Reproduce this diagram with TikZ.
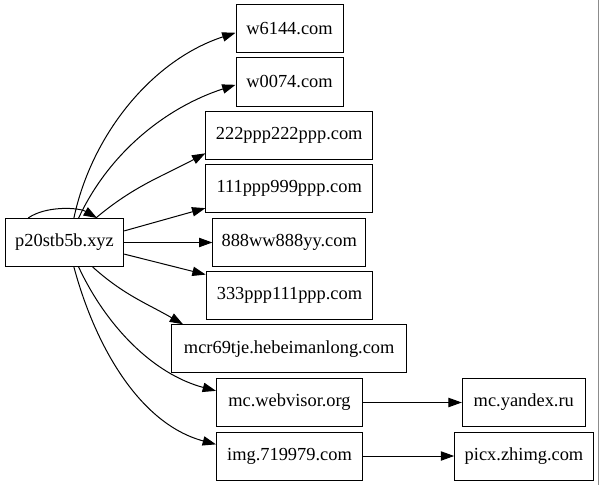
\documentclass[tikz,border=0pt]{standalone}
\usepackage{fontspec}
\setmainfont{Liberation Serif}
\usetikzlibrary{arrows.meta}

\begin{document}
\begin{tikzpicture}[x=0.75pt,y=0.75pt,>={Triangle[length=10pt,width=7pt]},
    font=\fontsize{13.8}{16}\selectfont,
    host/.style={draw,line width=0.75pt,minimum height=36pt,inner sep=0pt},
    link/.style={->,line width=0.75pt}]
  \useasboundingbox (0,0) rectangle (599,-485);
  \draw[black!45,line width=0.8pt] (598.5,0) -- (598.5,-485);
  % hosts
  \node[host,minimum width=89pt]    (src)      at (64.5,-242.5) {p20stb5b.xyz};
  \node[host,minimum width=80.25pt] (w6144)    at (289.5,-29)   {w6144.com};
  \node[host,minimum width=80.25pt] (w0074)    at (289.5,-82)   {w0074.com};
  \node[host,minimum width=125pt]   (p222)     at (289.2,-135.5){222ppp222ppp.com};
  \node[host,minimum width=125pt]   (p111)     at (289.2,-188.8){111ppp999ppp.com};
  \node[host,minimum width=114.5pt] (ww888)    at (289.2,-242.5){888ww888yy.com};
  \node[host,minimum width=125pt]   (p333)     at (289.5,-295.5){333ppp111ppp.com};
  \node[host,minimum width=176pt]   (mcr)      at (289.2,-348.8){mcr69tje.hebeimanlong.com};
  \node[host,minimum width=109.5pt] (webvisor) at (289.5,-402.5){mc.webvisor.org};
  \node[host,minimum width=109.5pt] (img)      at (289.5,-456)  {img.719979.com};
  \node[host,minimum width=92.25pt] (yandex)   at (523.8,-402.5){mc.yandex.ru};
  \node[host,minimum width=104pt]   (zhimg)    at (524,-456)    {picx.zhimg.com};
  % links
  \draw[link] (src.146) to[out=35,in=150,looseness=0.8] (src.37);
  \draw[link] (src.69) to[out=78,in=198,looseness=0.9] (w6144.184);
  \draw[link] (src.60) to[out=65,in=198,looseness=0.9] (w0074.183);
  \draw[link] (src.38) to[out=40,in=208] (p222.192);
  \draw[link] (src.11.5) -- (p111.193);
  \draw[link] (src.east) -- (ww888.west);
  \draw[link] (src.-11.5) -- (p333.166);
  \draw[link] (src.-41) to[out=-42,in=150] (mcr.167);
  \draw[link] (src.-60) to[out=-65,in=165,looseness=0.9] (webvisor.171);
  \draw[link] (src.-69) to[out=-75,in=165,looseness=0.9] (img.171);
  \draw[link] (webvisor.east) -- (yandex.west);
  \draw[link] (img.east) -- (zhimg.west);
\end{tikzpicture}
\end{document}
